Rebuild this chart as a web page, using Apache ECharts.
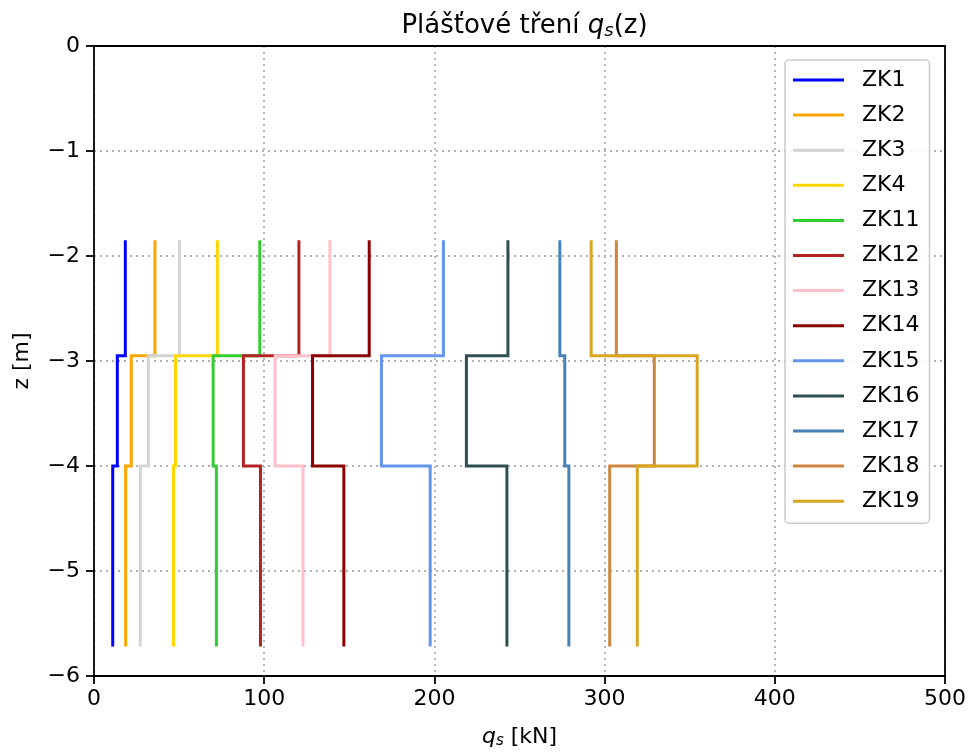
<!DOCTYPE html>
<html>
<head>
<meta charset="utf-8">
<script src="https://cdn.jsdelivr.net/npm/echarts@6/dist/echarts.min.js"></script>
<style>
html,body{margin:0;padding:0;background:#fff;}
#chart{width:969px;height:754px;}
</style>
</head>
<body>
<div id="chart"></div>
<script>
// Borehole names
const names = ['ZK1','ZK2','ZK3','ZK4','ZK11','ZK12','ZK13','ZK14','ZK15','ZK16','ZK17','ZK18','ZK19'];
// Layer boundaries in depth z [m]
const zBounds = [-1.85, -2.95, -4.0, -5.72];
// Skin friction q_s [kN] per layer (upper, middle, lower)
const qsUpper  = [18.4, 35.8, 50.2, 72.5, 97.4, 120.4, 138.6, 161.7, 205.3, 243.2, 273.7, 306.9, 292.1];
const qsMiddle = [13.7, 21.9, 31.9, 47.9, 70.0,  87.8, 106.4, 128.4, 168.9, 218.8, 276.6, 329.2, 354.4];
const qsLower  = [11.0, 18.6, 27.2, 46.7, 71.9,  97.8, 122.8, 146.8, 197.5, 242.6, 279.0, 303.0, 319.2];
// Axis ticks
const xTicks = [0, 100, 200, 300, 400, 500];
const yTicks = [-6, -5, -4, -3, -2, -1, 0];

const palette = ['#0000ff','#ffa500','#d3d3d3','#ffd700','#32cd32','#b22222','#ffc0cb','#8b0000','#6495ed','#2f4f4f','#4682b4','#cd853f','#daa520'];

const series = names.map((n, i) => ({
  name: n,
  type: 'line',
  showSymbol: false,
  symbol: 'none',
  color: palette[i],
  lineStyle: {width: 3, color: palette[i], cap: 'butt', join: 'miter'},
  animation: false,
  data: [
    [qsUpper[i], zBounds[0]],
    [qsUpper[i], zBounds[1]],
    [qsMiddle[i], zBounds[1]],
    [qsMiddle[i], zBounds[2]],
    [qsLower[i], zBounds[2]],
    [qsLower[i], zBounds[3]]
  ]
}));

const font = 'DejaVu Sans';
const fmt = v => v < 0 ? '\u2212' + (-v) : String(v);
const xMin = xTicks[0], xMax = xTicks[xTicks.length - 1];
const yMin = yTicks[0], yMax = yTicks[yTicks.length - 1];

const chart = echarts.init(document.getElementById('chart'), null, {renderer: 'canvas'});
chart.setOption({
  animation: false,
  backgroundColor: '#ffffff',
  title: {
    text: 'Plášťové tření {i|q}{s|s}(z)',
    left: 519.5, textAlign: 'center', top: 7,
    textStyle: {
      fontFamily: font, fontSize: 26, fontWeight: 'normal', color: '#000',
      rich: {
        i: {fontFamily: font, fontSize: 26, fontStyle: 'italic', color: '#000'},
        s: {fontFamily: font, fontSize: 18, fontStyle: 'italic', color: '#000', verticalAlign: 'bottom', padding: [10, 0, 0, 0]}
      }
    }
  },
  grid: {left: 94, right: 24, top: 46, bottom: 73, show: false, containLabel: false},
  legend: {
    orient: 'vertical', left: 785, top: 60,
    icon: 'rect', itemWidth: 51, itemHeight: 3, itemGap: 11.1,
    padding: [8, 10, 10, 8],
    backgroundColor: 'rgba(255,255,255,0.85)',
    borderColor: '#cccccc', borderWidth: 1.5, borderRadius: 4,
    textStyle: {fontFamily: font, fontSize: 22, lineHeight: 24, color: '#000', padding: [0, 0, 0, 13]},
    data: names
  },
  xAxis: [{
    type: 'value', min: xMin, max: xMax, interval: 100,
    name: '{i|q}{s|s} [kN]', nameLocation: 'middle', nameGap: 50,
    nameTextStyle: {
      fontFamily: font, fontSize: 22, color: '#000',
      rich: {
        i: {fontFamily: font, fontSize: 22, fontStyle: 'italic', color: '#000'},
        s: {fontFamily: font, fontSize: 15, fontStyle: 'italic', color: '#000', verticalAlign: 'bottom', padding: [8, 0, 0, 0]}
      }
    },
    axisLine: {show: true, onZero: false, lineStyle: {color: '#000', width: 1.8}},
    axisTick: {show: true, inside: false, length: 8, lineStyle: {color: '#000', width: 1.8}},
    axisLabel: {fontFamily: font, fontSize: 22, color: '#000', margin: 12, formatter: fmt},
    splitLine: {show: true, lineStyle: {type: [2, 4], color: '#b0b0b0', width: 1.8}}
  }, {
    type: 'value', position: 'top', min: xMin, max: xMax, interval: 100,
    axisLine: {show: true, onZero: false, lineStyle: {color: '#000', width: 1.8}},
    axisTick: {show: false}, axisLabel: {show: false}, splitLine: {show: false}
  }],
  yAxis: [{
    type: 'value', min: yMin, max: yMax, interval: 1,
    name: 'z [m]', nameLocation: 'middle', nameGap: 61, nameRotate: 90,
    nameTextStyle: {fontFamily: font, fontSize: 22, color: '#000'},
    axisLine: {show: true, onZero: false, lineStyle: {color: '#000', width: 1.8}},
    axisTick: {show: true, inside: false, length: 8, lineStyle: {color: '#000', width: 1.8}},
    axisLabel: {fontFamily: font, fontSize: 22, color: '#000', margin: 14, formatter: fmt},
    splitLine: {show: true, lineStyle: {type: [2, 4], color: '#b0b0b0', width: 1.8}}
  }, {
    type: 'value', position: 'right', min: yMin, max: yMax, interval: 1,
    axisLine: {show: true, onZero: false, lineStyle: {color: '#000', width: 1.8}},
    axisTick: {show: false}, axisLabel: {show: false}, splitLine: {show: false}
  }],
  series: series
});
</script>
</body>
</html>
